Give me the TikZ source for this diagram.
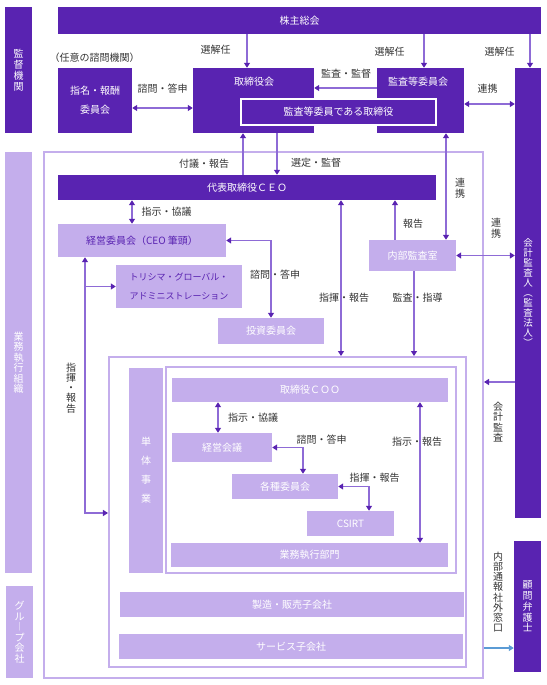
\documentclass[tikz,border=0pt]{standalone}
\usepackage{fontspec}
\setmainfont{Noto Sans CJK JP}
\usetikzlibrary{arrows.meta}
\definecolor{dkpurple}{HTML}{5923B1}
\definecolor{ltpurple}{HTML}{C4AEEC}
\definecolor{arrline}{HTML}{8E6BD6}
\definecolor{lblgray}{HTML}{333333}
\definecolor{tsuhoblue}{HTML}{5B9BD5}
\tikzset{
	tip/.style={-{Triangle[width=6bp,length=5bp,color=dkpurple]}},
	dkbox/.style={fill=dkpurple,text=white,inner sep=0pt,align=center},
	ltbox/.style={fill=ltpurple,text=white,inner sep=0pt,align=center},
	waku/.style={draw=ltpurple,line width=2bp,inner sep=0pt},
	lbl/.style={text=lblgray,inner sep=0pt,align=center},
	arr/.style={draw=arrline,line width=1.2bp,-{Triangle[width=6bp,length=5bp,color=dkpurple]}},
	darr/.style={draw=arrline,line width=1.2bp,{Triangle[width=6bp,length=5bp,color=dkpurple]}-{Triangle[width=6bp,length=5bp,color=dkpurple]}},
	bluearr/.style={draw=tsuhoblue,line width=1.2bp,-{Triangle[width=6bp,length=5bp,color=tsuhoblue]}},
}
\begin{document}
\begin{tikzpicture}[x=1bp,y=-1bp,font=\fontsize{10bp}{11bp}\selectfont]
		\useasboundingbox (0,0) rectangle (547,685);
		% frames
		\node[waku,minimum width=439bp,minimum height=526bp] (waku0) at (263.5,415) {};
		\node[waku,minimum width=357bp,minimum height=310bp] (waku1) at (287.5,512) {};
		\node[waku,minimum width=290bp,minimum height=206bp] (waku2) at (311,470) {};
		% left side
		\node[dkbox,minimum width=27bp,minimum height=126bp] (kantoku) at (18.5,70) {監\\督\\機\\関};
		\node[ltbox,minimum width=27bp,minimum height=421bp,font=\fontsize{10bp}{10.5bp}\selectfont] (gyomu) at (18.5,362.5) {業\\務\\執\\行\\組\\織};
		\node[ltbox,minimum width=27bp,minimum height=92bp,font=\fontsize{10bp}{10.5bp}\selectfont] (group) at (19.5,632) {グ\\ル\\︱\\プ\\会\\社};
		% top
		\node[dkbox,minimum width=483bp,minimum height=27bp] (kabu) at (299.5,20.5) {株主総会};
		\node[lbl] (nini) at (94.5,58) {（任意の諮問機関）};
		\node[dkbox,minimum width=74bp,minimum height=65bp,font=\fontsize{10bp}{19bp}\selectfont] (shimei) at (95,100.5) {指名・報酬\\委員会};
		\node[dkbox,minimum width=121bp,minimum height=65bp] (torishimari) at (253.5,100.5) {};
		\node[text=white,inner sep=0pt] (torishimaritxt) at (254,82) {取締役会};
		\node[dkbox,minimum width=87bp,minimum height=65bp] (kansa) at (420.5,100.5) {};
		\node[text=white,inner sep=0pt] (kansatxt) at (418,82) {監査等委員会};
		\node[dkbox,draw=white,line width=1.5bp,minimum width=195bp,minimum height=26bp] (kansatori) at (338.5,112) {監査等委員である取締役};
		\node[dkbox,minimum width=26bp,minimum height=450bp,font=\fontsize{9.5bp}{10bp}\selectfont] (kaikei) at (528,293) {会\\計\\監\\査\\人\\︵\\監\\査\\法\\人\\︶};
		\node[dkbox,minimum width=27bp,minimum height=131bp,font=\fontsize{10bp}{10.7bp}\selectfont] (komon) at (527.5,606.5) {顧\\問\\弁\\護\\士};
		% execution
		\node[dkbox,minimum width=378bp,minimum height=25bp] (ceo) at (247,187.5) {代表取締役ＣＥＯ};
		\node[ltbox,text=dkpurple,minimum width=168bp,minimum height=33bp] (keiei) at (142,240.5) {経営委員会（CEO 筆頭）};
		\node[ltbox,text=dkpurple,minimum width=126bp,minimum height=43bp,font=\fontsize{9bp}{19bp}\selectfont] (torishima) at (179,286.5) {トリシマ・グローバル・\\アドミニストレーション};
		\node[ltbox,minimum width=106bp,minimum height=26bp] (toshi) at (271,331) {投資委員会};
		\node[ltbox,minimum width=87bp,minimum height=31bp] (naibu) at (412.5,255.5) {内部監査室};
		\node[ltbox,minimum width=34bp,minimum height=205bp,font=\fontsize{10bp}{19bp}\selectfont] (tantai) at (146,470.5) {単\\体\\事\\業};
		\node[ltbox,minimum width=276bp,minimum height=24bp] (coo) at (310,390) {取締役ＣＯＯ};
		\node[ltbox,minimum width=100bp,minimum height=29bp] (keieikaigi) at (222,447.5) {経営会議};
		\node[ltbox,minimum width=106bp,minimum height=25bp] (kakushu) at (285,486.5) {各種委員会};
		\node[ltbox,minimum width=87bp,minimum height=25bp] (csirt) at (350.5,523.5) {CSIRT};
		\node[ltbox,minimum width=277bp,minimum height=24bp] (gyomubu) at (309.5,555) {業務執行部門};
		\node[ltbox,minimum width=344bp,minimum height=25bp] (seizo) at (292,604.5) {製造・販売子会社};
		\node[ltbox,minimum width=344bp,minimum height=25bp] (service) at (291,646.5) {サービス子会社};
		% connectors
		\draw[arr] (247,0 |- kabu.south) -- (247,0 |- torishimari.north);
		\draw[arr] (424,0 |- kabu.south) -- (424,0 |- kansa.north);
		\draw[arr] (530,0 |- kabu.south) -- (530,0 |- kaikei.north);
		\draw[darr] (shimei.east |- 0,108) -- (torishimari.west |- 0,108);
		\draw[arr] (kansa.west |- 0,88) -- (torishimari.east |- 0,88);
		\draw[darr] (kansa.east |- 0,104) -- (kaikei.west |- 0,104);
		\draw[arr] (243,0 |- ceo.north) -- (243,0 |- torishimari.south);
		\draw[arr] (277,0 |- torishimari.south) -- (277,0 |- ceo.north);
		\draw[darr] (446,0 |- kansa.south) -- (446,0 |- naibu.north);
		\draw[darr] (132,0 |- ceo.south) -- (132,0 |- keiei.north);
		\draw[darr] (keiei.east) -| (toshi.north);
		\draw[darr] (341,0 |- ceo.south) -- (341,0 |- waku1.north);
		\draw[arr] (395,0 |- naibu.north) -- (395,0 |- ceo.south);
		\draw[darr] (naibu.east) -- (kaikei.west |- naibu.east);
		\draw[arr] (414,0 |- naibu.south) -- (414,0 |- waku1.north);
		\draw[arr] (kaikei.west |- 0,382) -- (waku0.east |- 0,382);
		\draw[bluearr] (waku0.east |- 0,648) -- (komon.west |- 0,648);
		\draw[darr] (85,0 |- keiei.south) |- (waku1.west |- 0,513);
		\draw[arr] (85,0 |- torishima.west) -- (torishima.west);
		\draw[darr] (218,0 |- coo.south) -- (218,0 |- keieikaigi.north);
		\draw[darr] (keieikaigi.east) -| (303,0 |- kakushu.north);
		\draw[darr] (kakushu.east) -| (369,0 |- csirt.north);
		\draw[darr] (420,0 |- coo.south) -- (420,0 |- gyomubu.north);
		% labels
		\node[lbl] (l1) at (215.5,50) {選解任};
		\node[lbl] (l2) at (389.5,52) {選解任};
		\node[lbl] (l3) at (499.5,52) {選解任};
		\node[lbl] (l4) at (162.5,89) {諮問・答申};
		\node[lbl] (l5) at (346,74) {監査・監督};
		\node[lbl] (l6) at (487.5,89) {連携};
		\node[lbl] (l7) at (204,164) {付議・報告};
		\node[lbl] (l8) at (316,163) {選定・監督};
		\node[lbl] (l9) at (460,188) {連\\携};
		\node[lbl] (l10) at (166.5,212) {指示・協議};
		\node[lbl] (l11) at (413,224) {報告};
		\node[lbl] (l12) at (496,228) {連\\携};
		\node[lbl] (l13) at (275,275) {諮問・答申};
		\node[lbl] (l14) at (344,298) {指揮・報告};
		\node[lbl] (l15) at (417.5,298) {監査・指導};
		\node[lbl,font=\fontsize{10bp}{10.2bp}\selectfont] (l16) at (71,388) {指\\揮\\・\\報\\告};
		\node[lbl] (l17) at (253,418) {指示・協議};
		\node[lbl] (l18) at (321.5,440) {諮問・答申};
		\node[lbl] (l19) at (374.5,478) {指揮・報告};
		\node[lbl] (l20) at (417,442) {指示・報告};
		\node[lbl,font=\fontsize{10bp}{10.3bp}\selectfont] (l21) at (498,422) {会\\計\\監\\査};
		\node[lbl,font=\fontsize{10bp}{10.2bp}\selectfont] (l22) at (498,592) {内\\部\\通\\報\\社\\外\\窓\\口};
	\end{tikzpicture}
\end{document}
